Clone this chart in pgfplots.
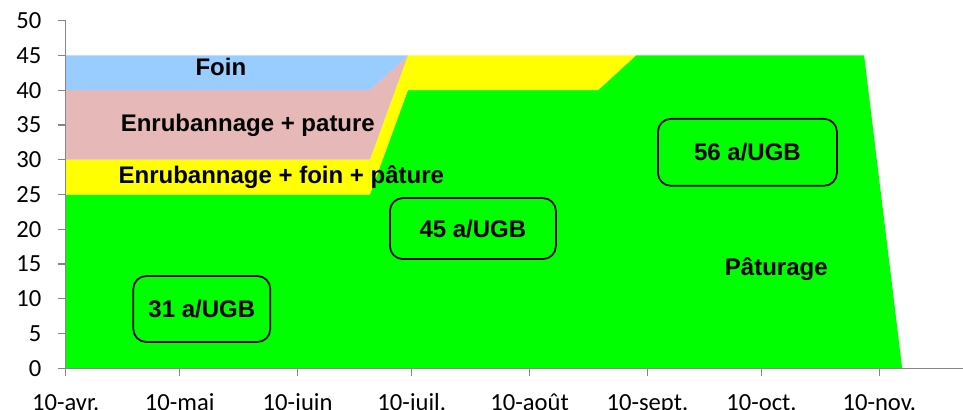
\documentclass[border=0pt]{standalone}
\usepackage{pgfplots}
\pgfplotsset{compat=1.18}
\usepackage{fontspec}
\setmainfont{Carlito}
\newfontfamily\arialfont{Liberation Sans}
\definecolor{pgreen}{HTML}{00FF00}
\definecolor{pyellow}{HTML}{FFFF00}
\definecolor{ppink}{HTML}{E6B8B7}
\definecolor{pblue}{HTML}{99CCFF}
\definecolor{axisgray}{HTML}{868686}
\tikzset{lbl/.style={font=\fontsize{12}{14}\selectfont\arialfont\bfseries, text=black},
  ugb/.style={lbl, draw=black, line width=0.85pt, rounded corners=6.5pt, inner sep=0pt}}
\begin{document}
\begin{tikzpicture}
\begin{axis}[
  at={(0,0)}, anchor=south west,
  scale only axis,
  width=448.65pt, height=173.8pt,
  xmin=0, xmax=236, ymin=0, ymax=50,
  axis x line=bottom, axis y line=left,
  axis line style={draw=axisgray, line width=0.6pt, -},
  xtick={0,30,61,91,122,153,183,214},
  xticklabels={10-avr.,10-mai,10-juin,10-juil.,10-août,10-sept.,10-oct.,10-nov.},
  ytick={0,5,...,50},
  tick align=outside,
  major tick length=3.6pt,
  tick style={draw=axisgray, line width=0.6pt},
  /pgf/number format/assume math mode=true,
  tick label style={font=\fontsize{12.3}{14}\selectfont, text=black},
  yticklabel shift=5pt,
  xticklabel style={anchor=base, yshift=-17.3pt},
  axis on top,
]
% Pâturage (green): top edge
\addplot[fill=pgreen, draw=none] coordinates {(0,0) (0,25) (80,25) (90,40) (140,40) (150,45) (210,45) (220,0)} -- cycle;
% Enrubannage + foin + pâture (yellow)
\addplot[fill=pyellow, draw=none] coordinates {(0,25) (80,25) (90,40) (140,40) (150,45) (140,45) (90,45) (80,30) (0,30)} -- cycle;
% Enrubannage + pature (pink)
\addplot[fill=ppink, draw=none] coordinates {(0,30) (80,30) (90,45) (80,40) (0,40)} -- cycle;
% Foin (blue)
\addplot[fill=pblue, draw=none] coordinates {(0,40) (80,40) (90,45) (0,45)} -- cycle;

\node[lbl] at (axis cs:40.8,43.3) {Foin};
\node[lbl, anchor=base] at (axis cs:47.9,34.1) {Enrubannage + pature};
\node[lbl, anchor=base] at (axis cs:56.7,26.6) {Enrubannage + foin + pâture};
\node[lbl, anchor=base] at (axis cs:186.9,13.28) {Pâturage};
\node[ugb, minimum width=68.5pt, minimum height=33pt] at (axis cs:35.8,8.53) {31 a/UGB};
\node[ugb, minimum width=83pt, minimum height=30.5pt] at (axis cs:107.1,20.1) {45 a/UGB};
\node[ugb, minimum width=89.5pt, minimum height=33.5pt] at (axis cs:179.3,31.07) {56 a/UGB};
\end{axis}
\pgfresetboundingbox
\path[use as bounding box] (-32.85pt,-20.35pt) rectangle (448.65pt,184.15pt);
\end{tikzpicture}
\end{document}
